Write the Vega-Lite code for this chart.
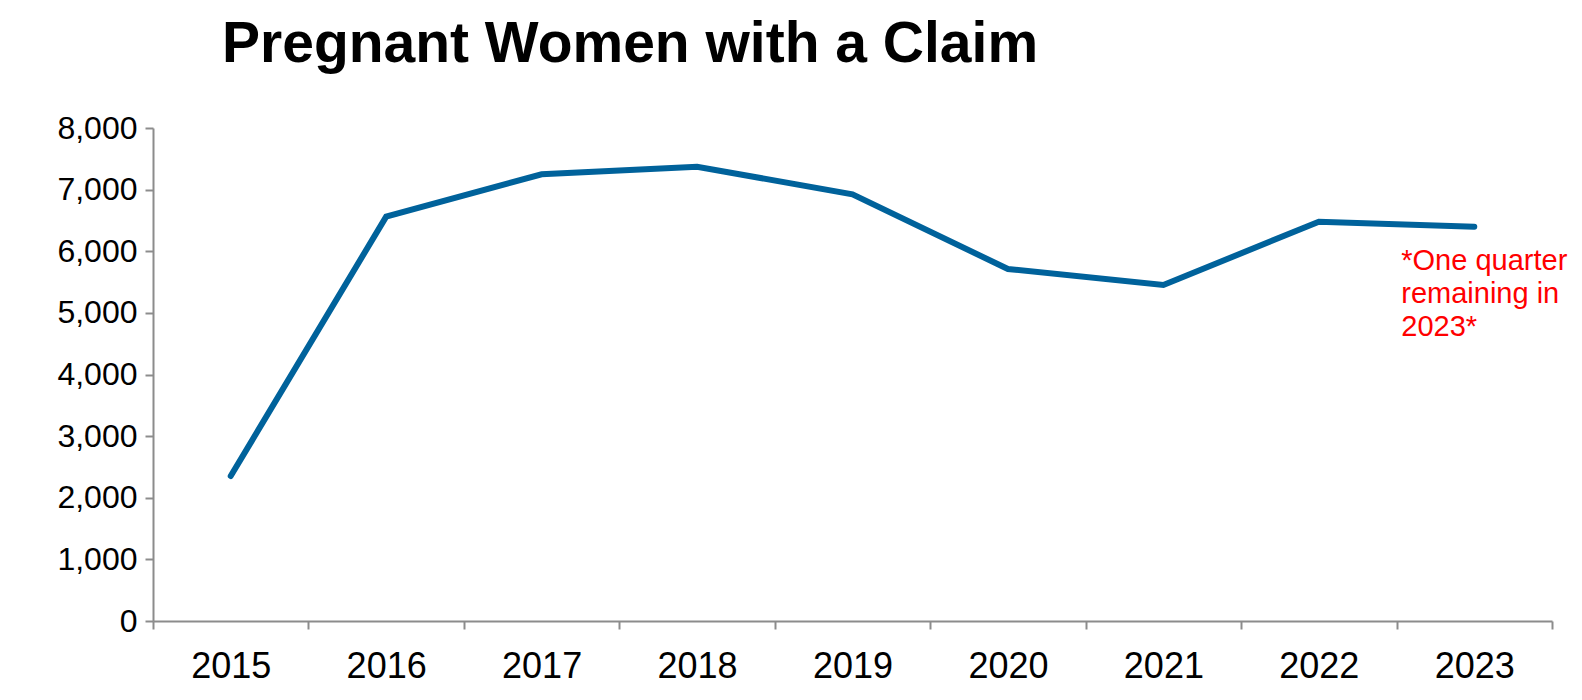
{
  "$schema": "https://vega.github.io/schema/vega-lite/v6.json",
  "width": 1399,
  "height": 493,
  "autosize": {"type": "none"},
  "padding": {"left": 153, "top": 128, "right": 30, "bottom": 79},
  "background": "white",
  "config": {
    "view": {"stroke": null},
    "font": "Liberation Sans"
  },
  "title": {
    "text": "Pregnant Women with a Claim",
    "font": "Liberation Sans",
    "fontSize": 57,
    "fontWeight": "bold",
    "color": "black",
    "anchor": "start",
    "frame": "group",
    "baseline": "alphabetic",
    "dx": 69,
    "offset": 51,
    "dy": 58
  },
  "datasets": {
    "claims": [
      {"year": "2015", "women": 2353},
      {"year": "2016", "women": 6561},
      {"year": "2017", "women": 7249},
      {"year": "2018", "women": 7372},
      {"year": "2019", "women": 6924},
      {"year": "2020", "women": 5712},
      {"year": "2021", "women": 5452},
      {"year": "2022", "women": 6480},
      {"year": "2023", "women": 6399}
    ],
    "note": [
      {"year": "2023", "women": 6399, "label": ["*One quarter", "remaining in", "2023*"]}
    ]
  },
  "encoding": {
    "x": {
      "field": "year",
      "type": "ordinal",
      "title": null,
      "scale": {"paddingInner": 0, "paddingOuter": 0},
      "axis": {
        "labelAngle": 0,
        "labelFontSize": 36,
        "labelColor": "black",
        "labelFont": "Liberation Sans",
        "labelPadding": 20,
        "tickBand": "extent",
        "tickSize": 8,
        "tickWidth": 2,
        "tickColor": "#8c8c8c",
        "domainColor": "#8c8c8c",
        "domainWidth": 2
      }
    },
    "y": {
      "field": "women",
      "type": "quantitative",
      "title": null,
      "scale": {"domain": [0, 8000], "nice": false},
      "axis": {
        "values": [0, 1000, 2000, 3000, 4000, 5000, 6000, 7000, 8000],
        "format": ",d",
        "grid": false,
        "labelFontSize": 32,
        "labelColor": "black",
        "labelFont": "Liberation Sans",
        "labelPadding": 8,
        "tickSize": 8,
        "tickWidth": 2,
        "tickColor": "#8c8c8c",
        "domainColor": "#8c8c8c",
        "domainWidth": 2
      }
    }
  },
  "layer": [
    {
      "data": {"name": "claims"},
      "mark": {"type": "line", "color": "#00629b", "strokeWidth": 6, "strokeCap": "round", "strokeJoin": "miter"}
    },
    {
      "data": {"name": "note"},
      "mark": {
        "type": "text",
        "color": "#ff0000",
        "fontSize": 29,
        "font": "Liberation Sans",
        "align": "left",
        "baseline": "middle",
        "lineHeight": 33,
        "dx": -73,
        "dy": 34
      },
      "encoding": {"text": {"field": "label"}}
    }
  ]
}
